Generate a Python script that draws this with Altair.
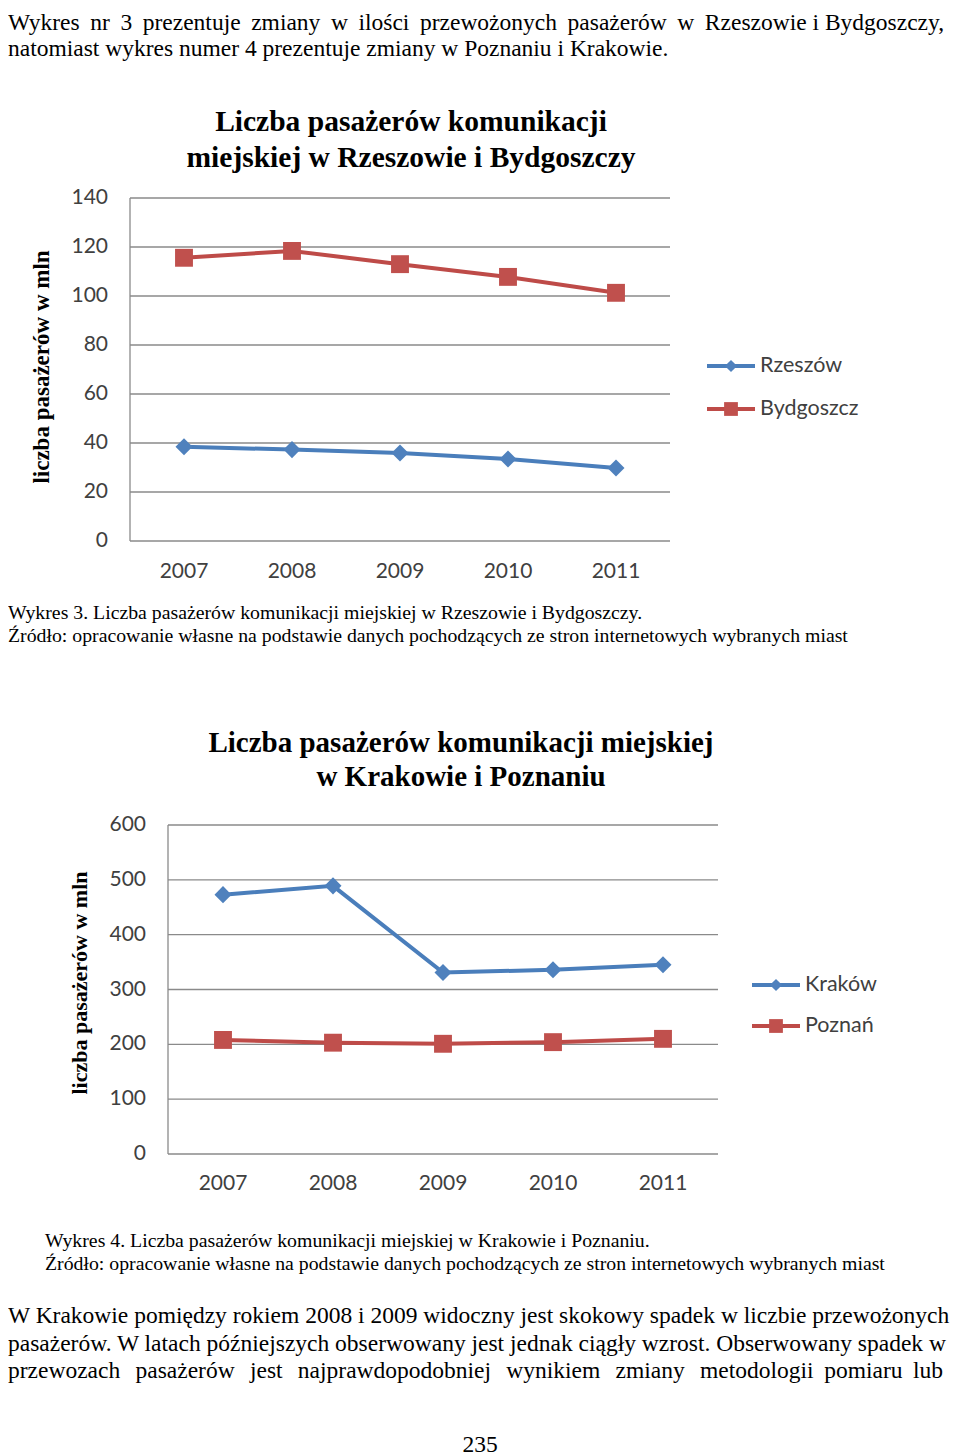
import altair as alt
import pandas as pd

# ---------------- data ----------------
years = ["2007", "2008", "2009", "2010", "2011"]
rzeszow = [38.5, 37.3, 35.9, 33.5, 29.8]
bydgoszcz = [115.6, 118.4, 113.0, 107.8, 101.3]
krakow = [473, 489, 331, 336, 345]
poznan = [208, 203, 201, 204, 210]
y1_ticks = [0, 20, 40, 60, 80, 100, 120, 140]
y2_ticks = [0, 100, 200, 300, 400, 500, 600]

title1 = ["Liczba pasażerów komunikacji", "miejskiej w Rzeszowie i Bydgoszczy"]
title2 = ["Liczba pasażerów komunikacji miejskiej", "w Krakowie i Poznaniu"]
ytitle = "liczba pasażerów w mln"

header = [
    "Wykres nr 3 prezentuje zmiany w ilości przewożonych pasażerów w Rzeszowie i Bydgoszczy,",
    "natomiast wykres numer 4 prezentuje zmiany w Poznaniu i Krakowie.",
]
caption1 = [
    "Wykres 3. Liczba pasażerów komunikacji miejskiej w Rzeszowie i Bydgoszczy.",
    "Źródło: opracowanie własne na podstawie danych pochodzących ze stron internetowych wybranych miast",
]
caption2 = [
    "Wykres 4. Liczba pasażerów komunikacji miejskiej w Krakowie i Poznaniu.",
    "Źródło: opracowanie własne na podstawie danych pochodzących ze stron internetowych wybranych miast",
]
paragraph = [
    "W Krakowie pomiędzy rokiem 2008 i 2009 widoczny jest skokowy spadek w liczbie przewożonych",
    "pasażerów. W latach późniejszych obserwowany jest jednak ciągły wzrost. Obserwowany spadek w",
    "przewozach pasażerów jest najprawdopodobniej wynikiem zmiany metodologii pomiaru lub",
]
page_no = "235"

BLUE_L, BLUE_M = "#4A7EBB", "#4F81BD"
RED_L, RED_M = "#BE4B48", "#C0504D"
GRID = "#8a8a8a"
LAB = "#404040"
SERIF = "Liberation Serif"
SANS = "Lato"

one = pd.DataFrame({"t": [""]})


def justify(s, n, skip=1):
    """Widen inter-word gaps (justified typesetting) with thin spaces;
    the last `skip` gaps get one thin space fewer."""
    words = s.split(" ")
    out = words[0]
    gaps = len(words) - 1
    for i, w in enumerate(words[1:]):
        k = n - 1 if i >= gaps - skip else n
        out += " " + "\u2009" * k + w
    return out


def T(s, x, y, size=23.5, font=SERIF, weight="normal", align="left",
      color="black", angle=0, baseline="alphabetic"):
    return alt.Chart(pd.DataFrame({"t": [s]})).mark_text(
        align=align, baseline=baseline, font=font, fontSize=size,
        fontWeight=weight, color=color, angle=angle
    ).encode(x=alt.value(x), y=alt.value(y), text="t:N")


def line_chart(series, ticks, xr, yr, ydom, lab_x, xlab_y, legend_x, legend_y,
               title_lines, title_x, title_y, title_size, ytitle_x, ytitle_y, ytitle_size):
    X = alt.Scale(type="point", domain=years, range=xr, padding=0.5)
    Y = alt.Scale(domain=ydom, range=yr)
    tdf = pd.DataFrame({"v": ticks, "lab": [str(t) for t in ticks]})
    ydf = pd.DataFrame({"year": years})
    layers = []
    layers.append(alt.Chart(tdf).mark_rule(color=GRID, strokeWidth=1.3).encode(
        y=alt.Y("v:Q", scale=Y, axis=None), x=alt.value(xr[0]), x2=alt.value(xr[1])))
    layers.append(alt.Chart(one).mark_rule(color=GRID, strokeWidth=1.3).encode(
        x=alt.value(xr[0]), y=alt.value(yr[1]), y2=alt.value(yr[0])))
    layers.append(alt.Chart(tdf).mark_text(align="right", baseline="middle", font=SANS,
                                           fontSize=21, color=LAB).encode(
        y=alt.Y("v:Q", scale=Y, axis=None), x=alt.value(lab_x), text="lab:N"))
    layers.append(alt.Chart(ydf).mark_text(align="center", baseline="middle", font=SANS,
                                           fontSize=21, color=LAB).encode(
        x=alt.X("year:O", scale=X, axis=None), y=alt.value(xlab_y), text="year:N"))
    for i, (name, vals, lc, mc, shape, size) in enumerate(series):
        df = pd.DataFrame({"year": years, "value": vals})
        layers.append(alt.Chart(df).mark_line(color=lc, strokeWidth=4).encode(
            x=alt.X("year:O", scale=X, axis=None), y=alt.Y("value:Q", scale=Y, axis=None)))
        layers.append(alt.Chart(df).mark_point(shape=shape, filled=True, size=size,
                                               color=mc, opacity=1).encode(
            x=alt.X("year:O", scale=X, axis=None), y=alt.Y("value:Q", scale=Y, axis=None)))
        ly = legend_y[i]
        layers.append(alt.Chart(one).mark_rule(color=lc, strokeWidth=4).encode(
            x=alt.value(legend_x), x2=alt.value(legend_x + 48), y=alt.value(ly)))
        layers.append(alt.Chart(one).mark_point(shape=shape, filled=True,
                                                size=150 if shape == "diamond" else 190,
                                                color=mc, opacity=1).encode(
            x=alt.value(legend_x + 24), y=alt.value(ly)))
        layers.append(T(name, legend_x + 53, ly, size=21.5, font=SANS, color=LAB,
                        baseline="middle"))
    for j, tl in enumerate(title_lines):
        layers.append(T(tl, title_x, title_y[j], size=title_size, weight="bold",
                        align="center", baseline="middle"))
    layers.append(T(ytitle, ytitle_x, ytitle_y, size=ytitle_size, weight="bold",
                    align="center", angle=270, baseline="middle"))
    return alt.layer(*layers)


chart1 = line_chart(
    [("Rzeszów", rzeszow, BLUE_L, BLUE_M, "diamond", 290),
     ("Bydgoszcz", bydgoszcz, RED_L, RED_M, "square", 320)],
    y1_ticks, [122, 662], [533, 190], [0, 140], 100, 564, 699, [358, 401],
    title1, 403, [114, 150], 29.5, 34, 359, 23)

chart2 = line_chart(
    [("Kraków", krakow, BLUE_L, BLUE_M, "diamond", 290),
     ("Poznań", poznan, RED_L, RED_M, "square", 320)],
    y2_ticks, [160, 710], [1146, 817], [0, 600], 138, 1176, 744, [977, 1018],
    title2, 453, [735, 769], 29, 72, 975, 22)

texts = [
    T(justify(header[0], 1, skip=2), 0, 22),
    T(header[1], 0, 48),
    T(caption1[0], 0, 611, size=19.8),
    T(caption1[1], 0, 634, size=19.8),
    T(caption2[0], 37, 1239, size=19.8),
    T(caption2[1], 37, 1262, size=19.8),
    T(paragraph[0], 0, 1315),
    T(paragraph[1], 0, 1343),
    T(justify(paragraph[2], 2, skip=2), 0, 1370),
    T(page_no, 472, 1444, align="center"),
]

chart = alt.layer(chart1, chart2, *texts).resolve_scale(
    x="independent", y="independent"
).properties(
    width=944, height=1448, padding=0,
    autosize=alt.AutoSizeParams(type="none"),
).configure_view(stroke=None)

chart.save("out.html", embed_options={"renderer": "svg", "actions": False})
